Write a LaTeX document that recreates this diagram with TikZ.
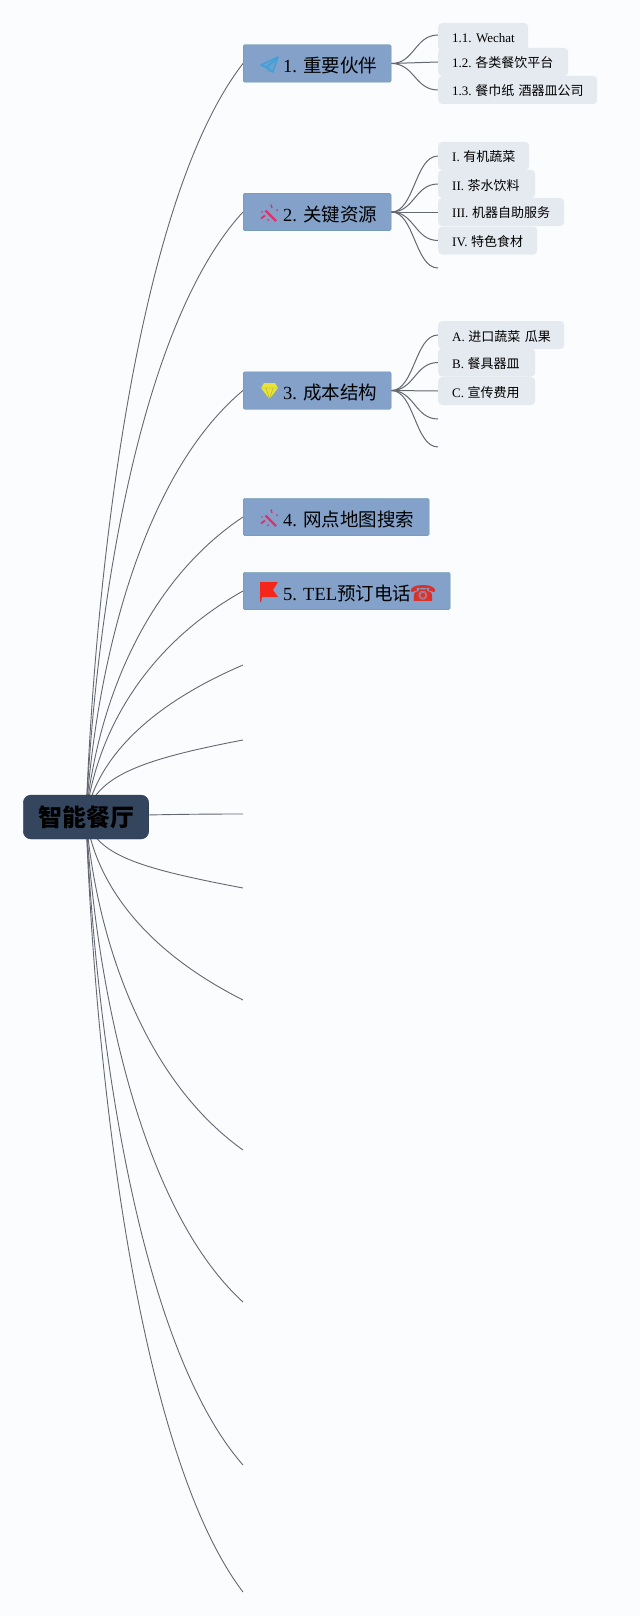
\documentclass[tikz,border=0pt]{standalone}
\usepackage{fontspec}
\setmainfont{Liberation Serif}
\newfontfamily\cjk{Noto Sans CJK SC}
\newfontfamily\sym{DejaVu Sans}
\usetikzlibrary{backgrounds}
\definecolor{mmPaper}{RGB}{251,252,254}
\definecolor{mmRoot}{RGB}{52,70,94}
\definecolor{mmTopic}{RGB}{131,161,201}
\definecolor{mmTopicEdge}{RGB}{95,150,165}
\definecolor{mmSub}{RGB}{229,233,240}
\definecolor{mmLink}{RGB}{100,104,112}
\definecolor{mmPlane}{RGB}{62,160,218}
\definecolor{mmWand}{RGB}{224,48,106}
\definecolor{mmGem}{RGB}{232,226,58}
\definecolor{mmFlag}{RGB}{245,38,26}
\definecolor{mmPhone}{RGB}{216,50,42}
\newcommand{\subtext}[2]{\hspace*{14pt}#1\hspace{3.6pt}{\cjk #2}}

\begin{document}
\frenchspacing
\begin{tikzpicture}[
  x=1pt, y=-1pt,
  rootbox/.style={draw=mmRoot!80!black, fill=mmRoot, rounded corners=8pt, minimum width=125.5pt, minimum height=44pt, inner sep=0pt, font=\fontsize{24}{28}\selectfont\bfseries\cjk},
  topic/.style={draw=mmTopicEdge, fill=mmTopic, rounded corners=1.5pt, anchor=west, text width=#1pt, text height=18pt, text depth=0pt, minimum height=37.5pt, inner xsep=0pt, inner ysep=0pt, align=left, font=\fontsize{18.5}{22}\selectfont},
  sub/.style={fill=mmSub, rounded corners=4pt, anchor=west, text width=#1pt, text height=12pt, text depth=0pt, minimum height=28pt, inner xsep=0pt, inner ysep=0pt, align=left, font=\fontsize{13}{16}\selectfont},
  rootlink/.style={draw=mmLink, line width=0.9pt},
  sublink/.style={draw=mmLink, line width=1pt},
  wand/.pic={
    \draw[mmWand, line width=2.4pt] (-3.5,-1.5) -- (7,9);
    \draw[mmWand, line width=1.8pt] (-8,6.5) -- (-4,3.5);
    \draw[mmWand, line width=1.4pt] (2,-7.5) -- (3,-4);
    \fill[mmWand] (8,-2) circle (1pt) (-7,0) circle (0.8pt) (-1,8) circle (1pt);
  },
]
% main topics
\node[topic=148] (partner) at (243,63.5) {\hspace*{40pt}1. {\cjk 重要伙伴}};
\node[topic=148] (resource) at (243,212) {\hspace*{40pt}2. {\cjk 关键资源}};
\node[topic=148] (cost) at (243,390.5) {\hspace*{40pt}3. {\cjk 成本结构}};
\node[topic=186] (search) at (243,517) {\hspace*{40pt}4. {\cjk 网点地图搜索}};
\node[topic=207] (phone) at (243,591) {\hspace*{40pt}5. TEL{\cjk 预订电话}};
% root
\node[rootbox] (root) at (86,817) {智能餐厅};
% empty ends of the root
\coordinate (e6) at (243,665);
\coordinate (e7) at (243,740);
\coordinate (e8) at (243,814);
\coordinate (e9) at (243,888);
\coordinate (e10) at (243,1000);
\coordinate (e11) at (243,1150);
\coordinate (e12) at (243,1302);
\coordinate (e13) at (243,1465);
\coordinate (e14) at (243,1592);
% group 1
\node[sub=90] (wechat) at (438,37) {\hspace*{14pt}1.1. Wechat};
\node[sub=130] (platform) at (438,62) {\subtext{1.2.}{各类餐饮平台}};
\node[sub=159] (napkin) at (438,90) {\subtext{1.3.}{餐巾纸 酒器皿公司}};
% group 2
\node[sub=91] (veg) at (438,156) {\subtext{I.}{有机蔬菜}};
\node[sub=97] (drink) at (438,184) {\subtext{II.}{茶水饮料}};
\node[sub=126] (robot) at (438,212) {\subtext{III.}{机器自助服务}};
\node[sub=99] (food) at (438,240.5) {\subtext{IV.}{特色食材}};
\coordinate (r5) at (438,268);
% group 3
\node[sub=126] (fruit) at (438,335) {\subtext{A.}{进口蔬菜 瓜果}};
\node[sub=97] (dish) at (438,362.5) {\subtext{B.}{餐具器皿}};
\node[sub=97] (ads) at (438,391) {\subtext{C.}{宣传费用}};
\coordinate (c4) at (438,419);
\coordinate (c5) at (438,447);
% icons
\fill[mmPlane!35!mmTopic] (278,57) -- (261,65) -- (266.5,67.5) -- (267,72) -- (273,72) -- cycle;
\draw[mmPlane, line width=1.4pt, line join=round] (278,57) -- (261,65) -- (266.5,67.5) -- (278,57) -- (273,72) -- (266.5,67.5);
\pic at (269,212) {wand};
\fill[mmGem] (264,383) -- (275,383) -- (278,388) -- (269.5,399) -- (261,388) -- cycle;
\draw[mmGem!75!black, line width=0.4pt] (261,388) -- (278,388) (266,388) -- (269.5,399) -- (273,388);
\pic at (269,517) {wand};
\fill[mmFlag] (260,582) -- (278,582) -- (273,590) -- (278,597) -- (262,597) -- (261,602) -- (260,602) -- cycle;
\node[inner sep=0pt, text=mmPhone, font=\fontsize{22}{22}\selectfont\sym] (tel) at (423,593) {☎};
% links
\begin{scope}[on background layer]
  \fill[mmPaper] (0,0) rectangle (640,1616);
  \foreach \kid/\a/\b in {partner/-248/135, resource/-200/114, cost/-141/88, search/-99/70, phone/-75/59,
      e6/-50/45, e7/-40/20, e8/0/0, e9/38/-20, e10/61/-53, e11/110/-75, e12/160/-96, e13/214/-120, e14/256/-138}
    \draw[rootlink] (root.center) .. controls +(9,\a) and +(-105,\b) .. (\kid.west);
  \foreach \kid in {platform, napkin}
    \draw[sublink] (partner.east) .. controls +(23,0) and +(-23,0) .. (\kid.west);
  \draw[sublink] (partner.east) .. controls +(23,0) and +(-23,0) .. ([yshift=2pt]wechat.west);
  \foreach \kid in {veg, drink, robot, food, r5}
    \draw[sublink] (resource.east) .. controls +(23,0) and +(-23,0) .. (\kid.west);
  \foreach \kid in {fruit, dish, ads, c4, c5}
    \draw[sublink] (cost.east) .. controls +(23,0) and +(-23,0) .. (\kid.west);
\end{scope}
\useasboundingbox (0,0) rectangle (640,1616);
\end{tikzpicture}
\end{document}
